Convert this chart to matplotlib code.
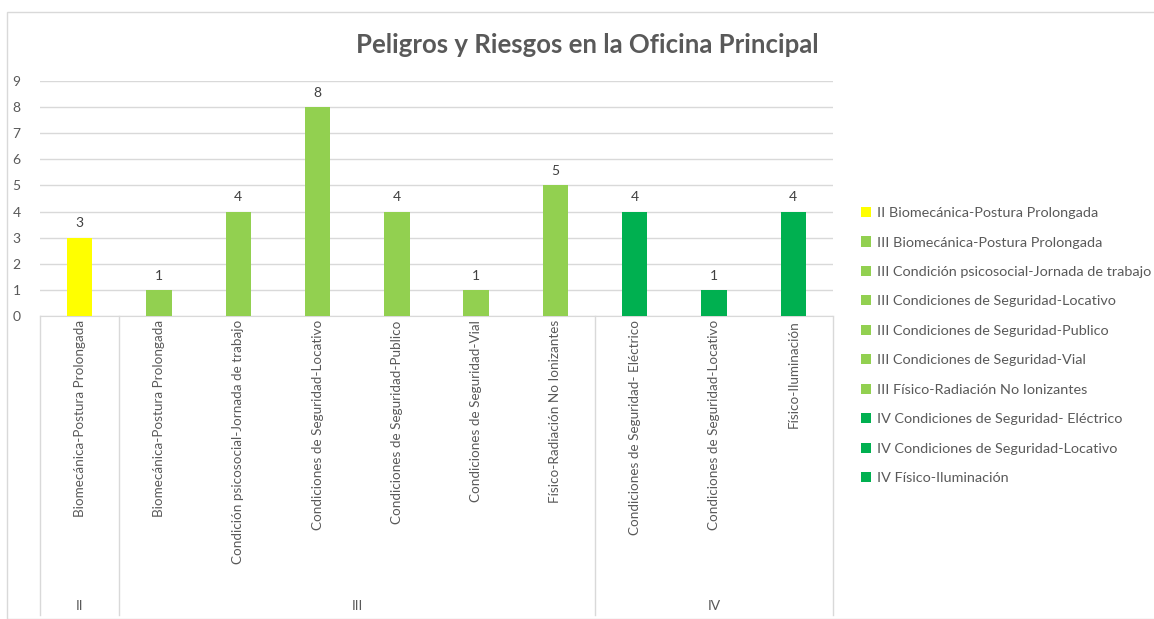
import matplotlib.pyplot as plt
from matplotlib.patches import Rectangle
import matplotlib.transforms as mtransforms

plt.rcParams['font.family'] = ['Lato', 'DejaVu Sans']

# data
groups = ['II', 'III', 'III', 'III', 'III', 'III', 'III', 'IV', 'IV', 'IV']
labels = ['Biomecánica-Postura Prolongada',
          'Biomecánica-Postura Prolongada',
          'Condición psicosocial-Jornada de trabajo',
          'Condiciones de Seguridad-Locativo',
          'Condiciones de Seguridad-Publico',
          'Condiciones de Seguridad-Vial',
          'Físico-Radiación No Ionizantes',
          'Condiciones de Seguridad- Eléctrico',
          'Condiciones de Seguridad-Locativo',
          'Físico-Iluminación']
values = [3, 1, 4, 8, 4, 1, 5, 4, 1, 4]
group_colors = {'II': '#FFFF00', 'III': '#92D050', 'IV': '#00B050'}

W, H = 1154, 619
fig = plt.figure(figsize=(W / 100, H / 100), dpi=100)
fig.patches.append(Rectangle((7 / W, 0), 1.2, (H - 12) / H, transform=fig.transFigure,
                             fill=False, edgecolor='#d9d9d9', lw=1))

ax = fig.add_axes([40 / W, (H - 316) / H, (833 - 40) / W, (316 - 81) / H])
txt = '#595959'

handles = []
for i, (g, lab, v) in enumerate(zip(groups, labels, values)):
    b = ax.bar(i, v, width=0.32, color=group_colors[g], label=g + ' ' + lab, zorder=3)
    handles.append(b)
    ax.text(i, v + 0.32, str(v), ha='center', va='bottom', fontsize=10, color='#404040')

ax.set_xlim(-0.5, len(values) - 0.5)
ax.set_ylim(0, 9)
ax.set_yticks(range(10))
ax.yaxis.grid(True, color='#d9d9d9', lw=1, zorder=0)
for s in ['top', 'right', 'left']:
    ax.spines[s].set_visible(False)
ax.spines['bottom'].set_color('#d9d9d9')
ax.tick_params(axis='y', length=0, labelsize=10, labelcolor=txt, pad=14)
ax.set_xticks(range(len(values)))
ax.set_xticklabels(labels, rotation=90, fontsize=9.7, color=txt, va='top')
ax.tick_params(axis='x', length=0, pad=3)

# multi-level category axis
trans = mtransforms.blended_transform_factory(ax.transData, ax.transAxes)
bounds = [-0.5]
for i in range(1, len(groups)):
    if groups[i] != groups[i - 1]:
        bounds.append(i - 0.5)
bounds.append(len(groups) - 0.5)
for x in bounds:
    ax.plot([x, x], [0, -(615 - 316) / (316 - 81)], transform=trans, color='#d9d9d9',
            lw=1, clip_on=False)
for a, b in zip(bounds[:-1], bounds[1:]):
    g = groups[int(a + 0.5)]
    ax.text((a + b) / 2, -(606 - 316) / (316 - 81), g, transform=trans, ha='center',
            va='center', fontsize=10, color=txt)

ax.set_title('Peligros y Riesgos en la Oficina Principal', fontsize=18.5, fontweight='bold',
             color=txt, pad=20, x=(587 - 40) / (833 - 40))

leg = fig.legend(handles=handles, loc='upper left', bbox_to_anchor=(848 / W, 1 - 194 / H),
                 frameon=False, fontsize=10.4, handlelength=0.7, handleheight=0.7,
                 handletextpad=0.4, labelspacing=1.2, labelcolor=txt)

fig.savefig('out.png', dpi=100)
